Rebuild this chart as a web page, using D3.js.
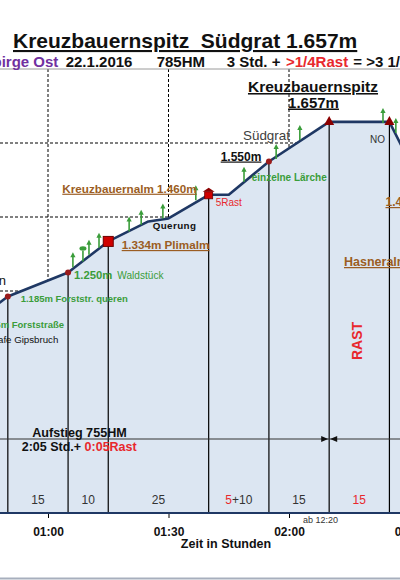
<!DOCTYPE html>
<html>
<head>
<meta charset="utf-8">
<script src="https://cdn.jsdelivr.net/npm/d3@7"></script>
<style>
body{margin:0;background:#fff;}
svg{display:block;font-family:"Liberation Sans",Arial,sans-serif;}
</style>
</head>
<body>
<div id="chart"></div>
<script>
// hoehenprofil: minuten ab start / hoehe in m
var times = [45, 50, 65, 75, 85, 90, 100, 105, 115, 130, 145, 150, 165];
var elev  = [1145, 1185, 1250, 1334, 1388, 1396, 1460, 1460, 1550, 1657, 1657, 1550, 1420];

// wegpunkte mit lot + marker
var wpTimes = [50, 65, 75, 100, 115, 130, 145];
var wpElev  = [1185, 1250, 1334, 1460, 1550, 1657, 1657];
var wpShape = ["dot", "dot", "square", "hut", "dot", "tri", "tri"];

// gehzeiten zwischen den wegpunkten (rot = rast)
var segRed   = ["", "", "", "5", "", "15"];
var segBlack = ["15", "10", "25", "+10", "15", ""];

// baeume / laerchen
var treeTimes = [66.2, 68.7, 70.2, 72.7, 80.2, 83.2, 88.6, 96.8, 108.8, 116.8, 122.7, 143.4, 146.6];
var treeElev  = [1264, 1280, 1298, 1317, 1361, 1379, 1396, 1445, 1495, 1557, 1608, 1654, 1627];
var treeRound = [0, 1, 0, 0, 0, 0, 0, 0, 0, 0, 0, 0, 0];

var xTicks = [60, 90, 120, 150];
var yTicks = [800, 1000, 1200, 1400, 1600];

var width = 400, height = 580;
var navy = "#1f3864", red = "#e8282d", green = "#3a9d3a", brown = "#9b5d23";

var x = d3.scaleLinear().domain([60, 150]).range([48, 409.5]);
var y = d3.scaleLinear().domain([600, 1800]).range([513, 69]);

var svg = d3.select("#chart").append("svg")
    .attr("width", width)
    .attr("height", height);

svg.append("rect").attr("width", width).attr("height", height).attr("fill", "#fff");

// gitter
svg.append("g").selectAll("line")
    .data(yTicks)
    .enter().append("line")
    .attr("x1", 0).attr("x2", width)
    .attr("y1", function(d){return y(d);}).attr("y2", function(d){return y(d);})
    .attr("stroke", "#000").attr("stroke-dasharray", "3,2");

svg.append("g").selectAll("line")
    .data(xTicks)
    .enter().append("line")
    .attr("x1", function(d){return x(d);}).attr("x2", function(d){return x(d);})
    .attr("y1", y(1800)).attr("y2", y(600))
    .attr("stroke", "#000").attr("stroke-dasharray", "3,2");

svg.append("line")
    .attr("x1", 0).attr("x2", width)
    .attr("y1", y(1800)).attr("y2", y(1800))
    .attr("stroke", "#9a9a9a");

var prof = times.map(function(t, i){return [t, elev[i]];});

svg.append("path")
    .datum(prof)
    .attr("fill", "#dce6f2")
    .attr("d", d3.area()
        .x(function(d){return x(d[0]);})
        .y0(y(600))
        .y1(function(d){return y(d[1]);}));

// lote
svg.append("g").selectAll("line")
    .data(wpTimes)
    .enter().append("line")
    .attr("x1", function(d){return x(d);}).attr("x2", function(d){return x(d);})
    .attr("y1", function(d, i){return y(wpElev[i]);}).attr("y2", y(600))
    .attr("stroke", "#000").attr("stroke-width", 1.2);

// aufstieg / abstieg pfeil
var ay = y(800), ax = x(130);
svg.append("line").attr("x1", 0).attr("x2", width).attr("y1", ay).attr("y2", ay)
    .attr("stroke", "#333").attr("stroke-width", 1.2);
svg.append("path").attr("d", "M" + (ax - 8) + "," + (ay - 3) + "L" + (ax - 1) + "," + ay + "L" + (ax - 8) + "," + (ay + 3) + "Z").attr("fill", "#111");
svg.append("path").attr("d", "M" + (ax + 8) + "," + (ay - 3) + "L" + (ax + 1) + "," + ay + "L" + (ax + 8) + "," + (ay + 3) + "Z").attr("fill", "#111");

// profil linie
svg.append("path")
    .datum(prof)
    .attr("fill", "none")
    .attr("stroke", navy)
    .attr("stroke-width", 2.6)
    .attr("stroke-linejoin", "round")
    .attr("d", d3.line()
        .x(function(d){return x(d[0]);})
        .y(function(d){return y(d[1]);}));

// baeume
var tg = svg.append("g").attr("fill", green).attr("stroke", green);
treeTimes.forEach(function(t, i){
    var tx = x(t), ty = y(treeElev[i]);
    tg.append("line").attr("x1", tx).attr("x2", tx).attr("y1", ty).attr("y2", ty - 11).attr("stroke-width", 1.6);
    if (treeRound[i]) {
        tg.append("ellipse").attr("cx", tx).attr("cy", ty - 13).attr("rx", 3.5).attr("ry", 2.2).attr("stroke", "none");
    } else {
        tg.append("path").attr("stroke", "none")
            .attr("d", "M" + (tx - 2.6) + "," + (ty - 10) + "L" + tx + "," + (ty - 15) + "L" + (tx + 2.6) + "," + (ty - 10) + "Z");
    }
});

// marker
var mg = svg.append("g");
wpTimes.forEach(function(t, i){
    var mx = x(t), my = y(wpElev[i]), s = wpShape[i];
    if (s == "dot") {
        mg.append("circle").attr("cx", mx).attr("cy", my).attr("r", 3).attr("fill", "#9b1c1c");
    } else if (s == "square") {
        mg.append("rect").attr("x", mx - 5).attr("y", my - 5).attr("width", 10).attr("height", 10)
            .attr("fill", "#d00000").attr("stroke", "#6d0000").attr("stroke-width", 1);
    } else if (s == "hut") {
        mg.append("rect").attr("x", mx - 4).attr("y", my - 3).attr("width", 8).attr("height", 7)
            .attr("fill", "#d00000").attr("stroke", "#6d0000").attr("stroke-width", 0.8);
        mg.append("path").attr("d", "M" + (mx - 6) + "," + (my - 3) + "L" + mx + "," + (my - 7) + "L" + (mx + 6) + "," + (my - 3) + "Z")
            .attr("fill", "#8b0000");
    } else {
        mg.append("path").attr("d", "M" + (mx - 5) + "," + (my + 3) + "L" + mx + "," + (my - 6) + "L" + (mx + 5) + "," + (my + 3) + "Z")
            .attr("fill", "#8b0000");
    }
});

// gehzeiten unten
var sg = svg.append("g").style("font-size", "12px").attr("text-anchor", "middle");
segBlack.forEach(function(b, i){
    var cx = (x(wpTimes[i]) + x(wpTimes[i + 1])) / 2;
    var t = sg.append("text").attr("x", cx).attr("y", 504);
    if (segRed[i]) t.append("tspan").attr("fill", red).text(segRed[i]);
    if (b) t.append("tspan").attr("fill", "#333").text(b);
});

// achse
svg.append("line").attr("x1", 0).attr("x2", width).attr("y1", y(600)).attr("y2", y(600))
    .attr("stroke", navy).attr("stroke-width", 2.2);

var fmt = function(m){ return "0" + Math.floor(m / 60) + ":" + d3.format("02")(m % 60); };
var axis = svg.append("g")
    .attr("transform", "translate(0," + (y(600) + 1) + ")")
    .call(d3.axisBottom(x).tickValues(xTicks).tickFormat(fmt).tickSize(4).tickPadding(9.5));
axis.select(".domain").remove();
axis.selectAll("text").style("font-size", "12px").style("font-weight", "bold")
    .style("font-family", "'Liberation Sans',Arial,sans-serif").attr("fill", "#111");

// beschriftung
function label(px, py, txt, o){
    o = o || {};
    return svg.append("text")
        .attr("x", px).attr("y", py)
        .attr("text-anchor", o.anchor || "start")
        .attr("fill", o.color || "#111")
        .style("font-size", (o.size || 12) + "px")
        .style("font-weight", o.bold ? "bold" : "normal")
        .style("text-decoration", o.under ? "underline" : "none")
        .style("white-space", "pre")
        .text(txt);
}

label(13, 48, "Kreuzbauernspitz  Südgrat 1.657m", {size: 21, bold: true, under: true});

label(58.3, 67, "Hintergebirge Ost", {size: 15, bold: true, color: "#7030a0", anchor: "end"});
label(65.7, 67, "22.1.2016", {size: 15, bold: true});
label(156.7, 67, "785HM", {size: 15, bold: true});
label(226.7, 67, "3 Std. +", {size: 15, bold: true});
label(286, 67, ">1/4Rast", {size: 15, bold: true, color: red});
label(353.3, 67, "= >3 1/4 Std.", {size: 15, bold: true});

label(313, 92, "Kreuzbauernspitz", {size: 15.5, bold: true, under: true, anchor: "middle"});
label(313.5, 107.5, "1.657m", {size: 15, bold: true, under: true, anchor: "middle"});
label(243, 140, "Südgrat", {size: 13.4, color: "#404040"});
label(377.5, 143, "NO", {size: 10, color: "#333", anchor: "middle"});
label(220.7, 160.5, "1.550m", {size: 12, bold: true, under: true});
label(251.7, 181, "einzelne Lärche", {size: 10, bold: true, color: green});
label(62.3, 192.7, "Kreuzbauernalm 1.460m", {size: 11.7, bold: true, under: true, color: brown});
label(215.7, 206, "5Rast", {size: 10, color: red});
label(385.5, 206, "1.460m", {size: 12, bold: true, under: true, color: brown});
label(152.7, 229, "Querung", {size: 9.8, bold: true}).style("letter-spacing", "0.4px");
label(121.7, 249, "1.334m Plimalm", {size: 11.7, bold: true, under: true, color: brown});
label(344, 266, "Hasneralm", {size: 12.5, bold: true, under: true, color: brown});
label(74, 279, "1.250m", {size: 11.3, bold: true, color: green});
label(117.3, 279, "Waldstück", {size: 10.1, color: green});
label(6, 285, "Start bei den Parkplätzen", {size: 13, anchor: "end"});
label(20.7, 302, "1.185m Forststr. queren", {size: 9.5, bold: true, color: green});
label(64, 328, "1.145m Forststraße", {size: 9.5, bold: true, color: green, anchor: "end"});
label(58.3, 342.7, "Cafe Gipsbruch", {size: 9.7, anchor: "end"});

svg.append("text")
    .attr("transform", "translate(362,341) rotate(-90)")
    .attr("text-anchor", "middle")
    .attr("fill", red)
    .style("font-size", "14px").style("font-weight", "bold")
    .text("RAST");

label(79.5, 437.3, "Aufstieg 755HM", {size: 12.6, bold: true, anchor: "middle"});
var t2 = label(21.7, 451, "2:05 Std.+ ", {size: 12.5, bold: true});
t2.append("tspan").attr("fill", red).text("0:05Rast");

label(320.5, 523.3, "ab 12:20", {size: 9, color: "#333", anchor: "middle"});
label(226, 548.3, "Zeit in Stunden", {size: 12.5, bold: true, anchor: "middle"});

svg.append("line").attr("x1", 0).attr("x2", width).attr("y1", 578.5).attr("y2", 578.5)
    .attr("stroke", "#a7afbd").attr("stroke-width", 2);
</script>
</body>
</html>
